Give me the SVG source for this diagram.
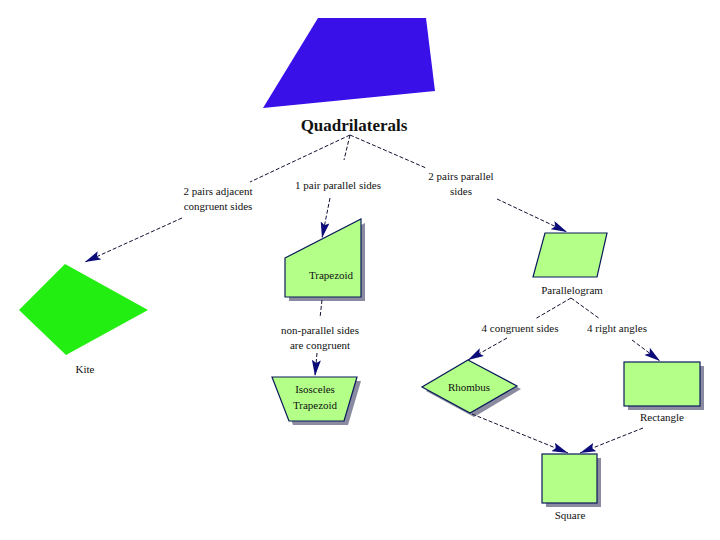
<svg xmlns="http://www.w3.org/2000/svg" width="720" height="540" viewBox="0 0 720 540">
<style>
text{font-family:"Liberation Serif","Times New Roman",serif;font-size:11px;fill:#111;text-anchor:middle}
.title{font-size:17px;font-weight:bold}
.node{fill:#b3ff88;stroke:#0a1a5a;stroke-width:1.2}
.sh{fill:#8a8aa0}
.edge{fill:none;stroke:#111133;stroke-width:1;stroke-dasharray:4 2}
</style>
<defs>
<marker id="ah" viewBox="0 0 16 9" refX="16" refY="4.5" markerWidth="16" markerHeight="9" markerUnits="userSpaceOnUse" orient="auto">
<path d="M0,0 L16,4.5 L0,9 L3,4.5 Z" fill="#0b0b7a"/>
</marker>
</defs>
<rect width="720" height="540" fill="#ffffff"/>
<g id="quadrilaterals">
<polygon points="318,18 426,18 435,91 263,108" fill="#3a10e8"/>
<text class="title" x="354" y="131">Quadrilaterals</text>
</g>
<g id="kite">
<polygon points="65,264 148,310 66,355 19,310" fill="#22ee11"/>
<text x="85" y="373">Kite</text>
</g>
<g id="trapezoid">
<polygon class="sh" points="289,262 365,223 365,301 289,301"/>
<polygon class="node" points="285,258 361,219 361,297 285,297"/>
<text x="331" y="279">Trapezoid</text>
</g>
<g id="isosceles-trapezoid">
<polygon class="sh" points="276,381 361,381 348,425 293,425"/>
<polygon class="node" points="272,377 357,377 344,421 289,421"/>
<text x="315" y="393">Isosceles</text>
<text x="315" y="409">Trapezoid</text>
</g>
<g id="parallelogram">
<polygon class="node" points="545,233 607,233 597,277 533,277"/>
<text x="572" y="294">Parallelogram</text>
</g>
<g id="rhombus">
<polygon class="sh" points="472,364 521,389 474,417 426,391"/>
<polygon class="node" points="468,360 517,386 470,413 422,387"/>
<text x="469" y="391">Rhombus</text>
</g>
<g id="rectangle">
<rect class="sh" x="628" y="366" width="76" height="44"/>
<rect class="node" x="624" y="362" width="76" height="44"/>
<text x="662" y="421">Rectangle</text>
</g>
<g id="square">
<rect class="sh" x="546" y="458" width="55" height="49"/>
<rect class="node" x="542" y="454" width="55" height="49"/>
<text x="570" y="519">Square</text>
</g>
<g id="connectors">
<path class="edge" d="M350,135 L250,182"/>
<path class="edge" d="M182,218 L85,262" marker-end="url(#ah)"/>
<text x="218" y="195">2 pairs adjacent</text>
<text x="218" y="210">congruent sides</text>
<path class="edge" d="M350,135 L344,160"/>
<path class="edge" d="M330,198 L322,238" marker-end="url(#ah)"/>
<text x="338" y="189">1 pair parallel sides</text>
<path class="edge" d="M350,135 L426,168"/>
<path class="edge" d="M497,199 L567,232" marker-end="url(#ah)"/>
<text x="461" y="180">2 pairs parallel</text>
<text x="461" y="195">sides</text>
<path class="edge" d="M322,300 L320,318"/>
<text x="320" y="334">non-parallel sides</text>
<text x="320" y="349">are congruent</text>
<path class="edge" d="M317,353 L315,376" marker-end="url(#ah)"/>
<path class="edge" d="M571,298 L535,319"/>
<path class="edge" d="M571,298 L600,319"/>
<text x="520" y="332">4 congruent sides</text>
<text x="617" y="332">4 right angles</text>
<path class="edge" d="M507,338 L468,360" marker-end="url(#ah)"/>
<path class="edge" d="M632,340 L660,361" marker-end="url(#ah)"/>
<path class="edge" d="M472,414 L568,453" marker-end="url(#ah)"/>
<path class="edge" d="M643,428 L580,453" marker-end="url(#ah)"/>
</g>
</svg>
